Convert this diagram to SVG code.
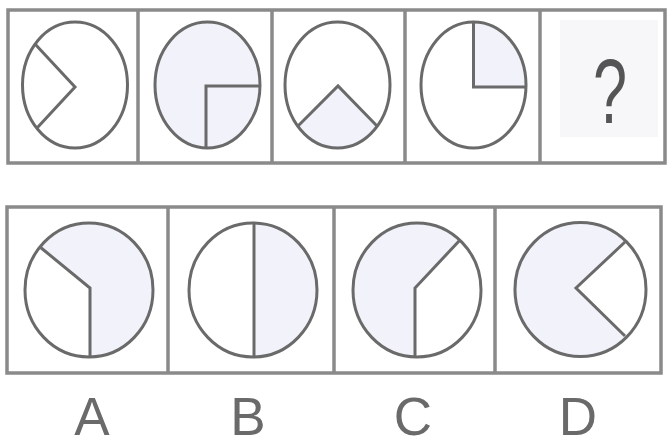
<svg xmlns="http://www.w3.org/2000/svg" width="667" height="446" viewBox="0 0 667 446">
<style>
.frame{fill:none;stroke:#8a8a8a;stroke-width:3.5}
.fig{fill:none;stroke:#6a6a6a;stroke-width:3;stroke-linejoin:miter}
.tint{fill:#f2f3fa;stroke:none}
.lbl{font-family:"Liberation Sans",Arial,sans-serif;font-size:53px;fill:#6a6a6a;text-anchor:middle}
</style>
<rect width="667" height="446" fill="#ffffff"/>
<g id="top-row">
  <rect class="frame" x="8" y="10" width="657" height="153"/>
  <line class="frame" x1="138" y1="10" x2="138" y2="163"/>
  <line class="frame" x1="272" y1="10" x2="272" y2="163"/>
  <line class="frame" x1="405" y1="10" x2="405" y2="163"/>
  <line class="frame" x1="540" y1="10" x2="540" y2="163"/>
</g>
<g id="fig1">
  <ellipse class="fig" cx="75" cy="85" rx="52.5" ry="63"/>
  <polyline class="fig" points="35,44 75,87 37,128"/>
</g>
<g id="fig2">
  <ellipse class="tint" cx="207.5" cy="85" rx="52.5" ry="63"/>
  <ellipse class="fig" cx="207.5" cy="85" rx="52.5" ry="63"/>
  <polyline class="fig" points="260,86 206,86 206,148"/>
</g>
<g id="fig3">
  <path class="tint" d="M298,126 L338,86 L377,126 A52.5,63 0 0 1 298,126 Z"/>
  <ellipse class="fig" cx="337.5" cy="85" rx="52.5" ry="63"/>
  <polyline class="fig" points="298,126 338,86 377,126"/>
</g>
<g id="fig4">
  <path class="tint" d="M473.5,22 L473.5,87 L526,87 A52.5,63 0 0 0 473.5,22 Z"/>
  <ellipse class="fig" cx="473.5" cy="85" rx="52.5" ry="63"/>
  <polyline class="fig" points="473.5,22 473.5,87 526,87"/>
</g>
<g id="fig5">
  <rect x="560" y="20" width="98" height="117" fill="#f7f7f9"/>
  <text x="0" y="0" transform="translate(610,123) scale(0.68,1)" style="font-family:'Liberation Sans',Arial,sans-serif;font-size:90px;fill:#555555;text-anchor:middle">?</text>
</g>
<g id="bottom-row">
  <rect class="frame" x="7" y="207" width="654" height="166"/>
  <line class="frame" x1="168" y1="207" x2="168" y2="373"/>
  <line class="frame" x1="334" y1="207" x2="334" y2="373"/>
  <line class="frame" x1="495" y1="207" x2="495" y2="373"/>
</g>
<g id="optA">
  <path class="tint" d="M90,288 L40,247 A64,67 0 1 1 90,357 Z"/>
  <ellipse class="fig" cx="89" cy="290" rx="64" ry="67"/>
  <polyline class="fig" points="40,247 90,288 90,357"/>
  <text class="lbl" x="92" y="435">A</text>
</g>
<g id="optB">
  <path class="tint" d="M254,223 L254,357 A64,67 0 0 0 254,223 Z"/>
  <ellipse class="fig" cx="253" cy="290" rx="64" ry="67"/>
  <line class="fig" x1="254" y1="223" x2="254" y2="357"/>
  <text class="lbl" x="248" y="435">B</text>
</g>
<g id="optC">
  <path class="tint" d="M415,357 L415,288 L460,240 A64,67 0 1 0 415,357 Z"/>
  <ellipse class="fig" cx="417" cy="290" rx="64" ry="67"/>
  <polyline class="fig" points="460,240 415,288 415,357"/>
  <text class="lbl" x="413" y="435">C</text>
</g>
<g id="optD">
  <path class="tint" d="M625,242 L576,288 L625,336 A65.5,67 0 1 1 625,242 Z"/>
  <ellipse class="fig" cx="580.5" cy="289.5" rx="65.5" ry="67"/>
  <polyline class="fig" points="625,242 576,288 625,336"/>
  <text class="lbl" x="578" y="435">D</text>
</g>
<g id="connectors"></g>
</svg>
